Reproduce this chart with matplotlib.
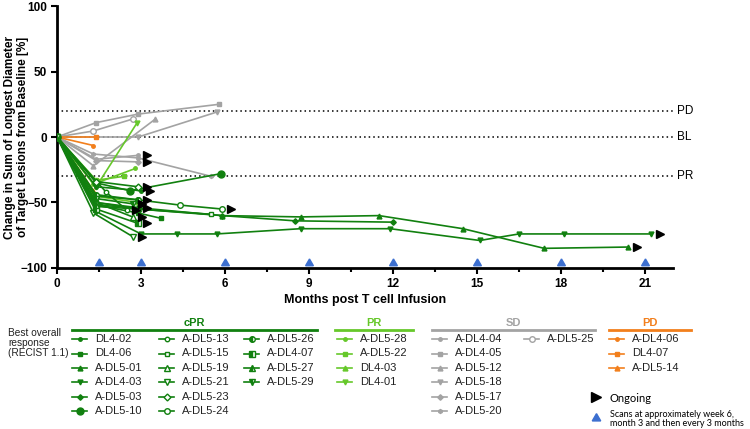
import numpy as np
import matplotlib
matplotlib.use("Agg")
import matplotlib.pyplot as plt

plt.rcParams['font.family'] = ['Liberation Sans', 'DejaVu Sans']

# --- data (months post infusion, % change from baseline) ---
cpr_names = ['DL4-02', 'DL4-06', 'A-DL5-01', 'A-DL4-03', 'A-DL5-03', 'A-DL5-10',
             'A-DL5-13', 'A-DL5-15', 'A-DL5-19', 'A-DL5-21', 'A-DL5-23', 'A-DL5-24',
             'A-DL5-26', 'A-DL4-07', 'A-DL5-27', 'A-DL5-29']
cpr_months = [[0, 1.4, 3.0], [0, 1.4, 2.9, 3.7],
              [0, 1.4, 2.9, 5.9, 8.7, 11.5, 14.5, 17.4, 20.4],
              [0, 1.4, 3.0, 4.3, 5.7, 8.7, 11.9, 15.1, 16.5, 18.1, 21.2],
              [0, 1.4, 2.9, 5.9, 8.5, 12.0], [0, 1.4, 2.6, 5.85],
              [0, 1.75, 2.5], [0, 1.4, 2.9, 5.5], [0, 1.4, 2.7], [0, 1.3, 2.7],
              [0, 1.4, 2.9], [0, 1.4, 2.9, 4.4, 5.9],
              [0, 1.4, 2.9], [0, 1.4, 2.9], [0, 1.4, 2.9], [0, 1.4, 2.7]]
cpr_change = [[0, -38, -41], [0, -52, -58, -62],
              [0, -53, -55, -60, -61, -60, -70, -85, -84],
              [0, -57, -74, -74, -74, -70, -70, -79, -74, -74, -74],
              [0, -50, -54, -60, -64, -65], [0, -35, -41, -28],
              [0, -42, -56], [0, -50, -55, -59], [0, -50, -61], [0, -58, -76],
              [0, -34, -38], [0, -45, -48, -52, -55],
              [0, -44, -48], [0, -55, -66], [0, -52, -54], [0, -47, -51]]

pr_names = ['A-DL5-28', 'A-DL5-22', 'DL4-03', 'DL4-01']
pr_months = [[0, 1.3, 2.8], [0, 1.4, 2.4], [0, 1.3, 2.9], [0, 1.4, 2.85]]
pr_change = [[0, -36, -24], [0, -33, -30], [0, -45, -50], [0, -38, 10.5]]

sd_names = ['A-DL4-04', 'A-DL4-05', 'A-DL5-12', 'A-DL5-18', 'A-DL5-17', 'A-DL5-20', 'A-DL5-25']
sd_months = [[0, 1.4, 2.9], [0, 1.4, 2.9, 5.8], [0, 1.3, 3.5], [0, 2.9, 5.7],
             [0, 1.4, 2.9], [0, 1.3, 2.9, 5.5], [0, 1.3, 2.7]]
sd_change = [[0, -17, -14], [0, 11, 17.5, 25], [0, -22, 13.5], [0, 0, 19],
             [0, -18, -19], [0, -13, -16, -30], [0, 4.6, 13.7]]

pd_names = ['A-DL4-06', 'DL4-07', 'A-DL5-14']
pd_months = [[0, 1.3], [0, 1.4], [0, 1.3]]
pd_change = [[0, -6.5], [0, 0], [0, -41]]

ongoing = ['DL4-02', 'A-DL5-01', 'A-DL4-03', 'A-DL5-13', 'A-DL5-19', 'A-DL5-21',
           'A-DL5-23', 'A-DL5-24', 'A-DL5-26', 'A-DL4-07', 'A-DL5-27', 'A-DL5-29',
           'A-DL4-04', 'A-DL5-17']
scan_months = [1.5, 3, 6, 9, 12, 15, 18, 21]
ref_levels = [20, 0, -30]
ref_labels = ['PD', 'BL', 'PR']

# --- styles ---
DKG = '#11800f'
LTG = '#66c82a'
GRY = '#a3a3a3'
ORG = '#f27f1c'
BLU = '#3c6fd0'

# marker, size, fillstyle ('full', 'none', 'left')
cpr_mk = [('o', 2.5, 'full'), ('s', 2.8, 'full'), ('^', 3.5, 'full'), ('v', 3.5, 'full'),
          ('D', 2.8, 'full'), ('o', 5, 'full'), ('o', 3.2, 'none'), ('s', 3.5, 'none'),
          ('^', 3.8, 'none'), ('v', 3.8, 'none'), ('D', 3.5, 'none'), ('o', 4, 'none'),
          ('o', 4, 'left'), ('s', 4, 'left'), ('^', 4, 'left'), ('v', 4, 'left')]
pr_mk = [('o', 2.5, 'full'), ('s', 2.8, 'full'), ('^', 3.5, 'full'), ('v', 3.5, 'full')]
sd_mk = [('o', 2.5, 'full'), ('s', 2.8, 'full'), ('^', 3.5, 'full'), ('v', 3.5, 'full'),
         ('D', 2.8, 'full'), ('h', 2.8, 'full'), ('o', 4, 'none')]
pd_mk = [('o', 2.5, 'full'), ('s', 2.8, 'full'), ('^', 3.5, 'full')]


def mk_kw(color, m):
    marker, size, fill = m
    kw = dict(color=color, marker=marker, markersize=size, markeredgecolor=color)
    if fill == 'none':
        kw['markerfacecolor'] = 'white'
    elif fill == 'left':
        kw['fillstyle'] = 'left'
        kw['markerfacecoloralt'] = 'white'
    return kw


fig = plt.figure(figsize=(7.5, 4.29), dpi=100)
ax = fig.add_axes([0.076, 0.3753, 0.8213, 0.6107])

groups = [(sd_names, sd_months, sd_change, GRY, sd_mk),
          (pd_names, pd_months, pd_change, ORG, pd_mk),
          (pr_names, pr_months, pr_change, LTG, pr_mk),
          (cpr_names, cpr_months, cpr_change, DKG, cpr_mk)]

for names, months, change, col, mks in groups:
    for name, xs, ys, m in zip(names, months, change, mks):
        ax.plot(xs, ys, lw=1.2, zorder=3, **mk_kw(col, m))
        if name in ongoing:
            ax.plot(xs[-1] + 0.32, ys[-1], marker='>', color='black',
                    markersize=5.5, ls='none', zorder=4)

for lev, lab in zip(ref_levels, ref_labels):
    ax.plot([0, 22], [lev, lev], ls=(0, (1, 2)), color='black', lw=1.1, zorder=1)
    ax.text(22.15, lev, lab, va='center', ha='left', fontsize=8.5)

ax.plot(scan_months, [-96.5] * len(scan_months), ls='none', marker=(3, 0, 0),
        color=BLU, markersize=6.5, clip_on=False, zorder=5)

ax.set_xlim(0, 22)
ax.set_ylim(-100, 100)
ax.set_xticks(np.arange(0, 22, 3))
ax.set_xticks(np.arange(1.5, 22, 3), minor=True)
ax.set_yticks([-100, -50, 0, 50, 100])
for s in ['top', 'right']:
    ax.spines[s].set_visible(False)
for s in ['left', 'bottom']:
    ax.spines[s].set_linewidth(2)
ax.tick_params(which='major', length=4, width=1.5, labelsize=8.5, pad=3)
ax.tick_params(which='minor', length=3, width=1.5)
for t in ax.get_xticklabels() + ax.get_yticklabels():
    t.set_fontweight('bold')
ax.set_xlabel('Months post T cell Infusion', fontsize=9, fontweight='bold', labelpad=3)
ax.set_ylabel('Change in Sum of Longest Diameter\nof Target Lesions from Baseline [%]',
              fontsize=8.5, fontweight='bold', linespacing=1.05)
ax.yaxis.set_label_coords(-0.046, 0.5)

# --- custom legend in pixel coordinates ---
lax = fig.add_axes([0, 0, 1, 1])
lax.set_xlim(0, 750)
lax.set_ylim(429, 0)
lax.axis('off')
lax.patch.set_visible(False)

lax.text(8, 343, 'Best overall\nresponse\n(RECIST 1.1)', fontsize=7.3, va='center',
         ha='left', linespacing=1.05, color='#222222')


def header(x0, x1, label, col):
    lax.plot([x0, x1], [330, 330], color=col, lw=2)
    lax.text((x0 + x1) / 2, 323, label, color=col, fontsize=8, fontweight='bold',
             ha='center', va='center')


header(72, 317, 'cPR', DKG)
header(335, 413, 'PR', LTG)
header(432, 595, 'SD', GRY)
header(609, 691, 'PD', ORG)

row_y = [339, 353.5, 368, 382, 396.5, 411]


def block(names, mks, col, xs, rows_per_col):
    for i, (n, m) in enumerate(zip(names, mks)):
        c, r = divmod(i, rows_per_col)
        x = xs[c]
        y = row_y[r]
        lax.plot([x, x + 15], [y, y], color=col, lw=1.2)
        lax.plot([x + 7.5], [y], ls='none', **mk_kw(col, m))
        lax.text(x + 23, y, n, fontsize=8, va='center', ha='left', color='#222222')


block(cpr_names, cpr_mk, DKG, [72, 159, 244], 6)
block(pr_names, pr_mk, LTG, [337], 6)
block(sd_names, sd_mk, GRY, [432, 524], 6)
block(pd_names, pd_mk, ORG, [609], 6)

lax.plot([596], [397], marker='>', color='black', markersize=7, ls='none')
lax.text(610, 398, 'Ongoing', fontsize=8, va='center', ha='left', family='Lato')
lax.plot([596], [418], marker=(3, 0, 0), color=BLU, markersize=7, ls='none')
lax.text(610, 419, 'Scans at approximately week 6,\nmonth 3 and then every 3 months',
         fontsize=6.5, va='center', ha='left', family='Lato', linespacing=1.0)

fig.savefig('out.png', dpi=100)
